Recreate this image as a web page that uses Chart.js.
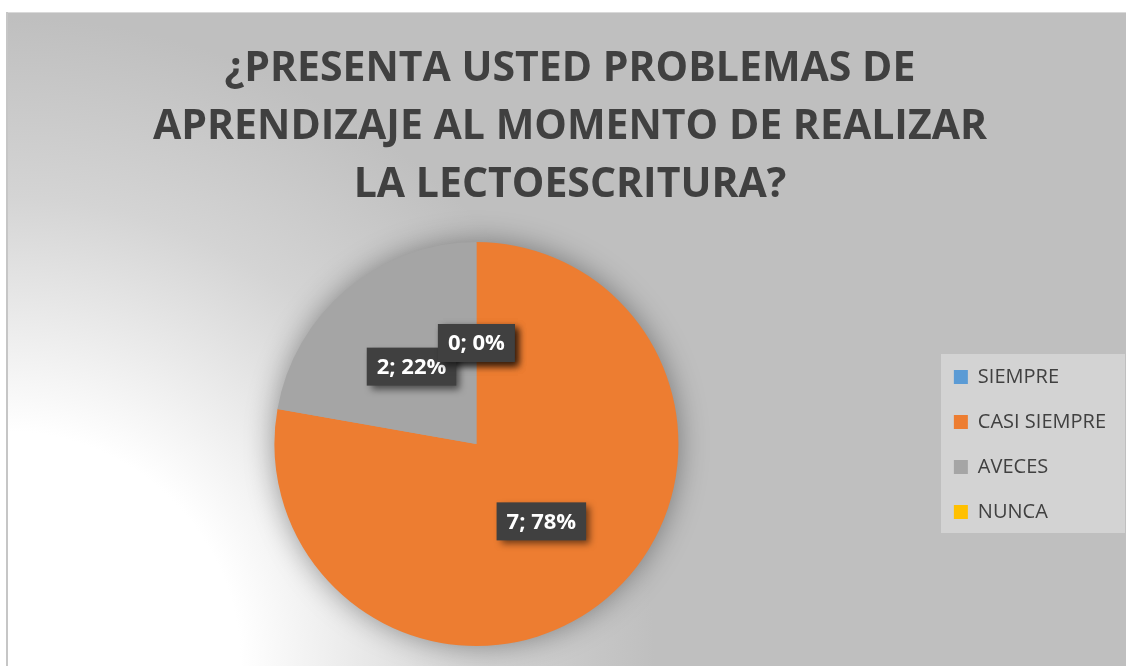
<!DOCTYPE html>
<html>
<head>
<meta charset="utf-8">
<script src="https://cdn.jsdelivr.net/npm/chart.js@4.4.1/dist/chart.umd.min.js"></script>
<style>
  html, body { margin: 0; padding: 0; background: #fff; }
  #wrap { width: 1126px; height: 666px; position: relative; }
</style>
</head>
<body>
<div id="wrap"><canvas id="myChart"></canvas></div>
<script>
const titleLines = ["¿PRESENTA USTED PROBLEMAS DE", "APRENDIZAJE AL MOMENTO DE REALIZAR", "LA LECTOESCRITURA?"];
const categories = ["SIEMPRE", "CASI SIEMPRE", "AVECES", "NUNCA"];
const counts = [0, 7, 2, 0];
const sliceColors = ["#5B9BD5", "#ED7D31", "#A5A5A5", "#FFC000"];

const textGray = "#404040";

// chart background (radial fill, white at bottom-left) + legend panel
const backdrop = {
  id: "backdrop",
  beforeDraw: (chart) => {
    const { ctx, width, height } = chart;
    ctx.save();
    ctx.fillStyle = "#ffffff";
    ctx.fillRect(0, 0, width, height);
    const g = ctx.createRadialGradient(6, height, 0, 6, height, 690);
    g.addColorStop(0, "#ffffff");
    g.addColorStop(0.34, "#ffffff");
    g.addColorStop(0.68, "#d4d4d4");
    g.addColorStop(0.94, "#bfbfbf");
    g.addColorStop(1, "#bfbfbf");
    ctx.fillStyle = g;
    ctx.fillRect(6, 12, width - 6, height - 12);
    ctx.strokeStyle = "#d9d9d9";
    ctx.lineWidth = 1;
    ctx.beginPath();
    ctx.moveTo(6, 12.5);
    ctx.lineTo(width, 12.5);
    ctx.stroke();
    ctx.strokeStyle = "#c6c6c6";
    ctx.lineWidth = 2;
    ctx.beginPath();
    ctx.moveTo(7, height);
    ctx.lineTo(7, 12);
    ctx.stroke();

    const boxes = chart.legend && chart.legend.legendHitBoxes;
    if (boxes && boxes.length) {
      const first = boxes[0];
      const last = boxes[boxes.length - 1];
      const top = first.top + first.height / 2 - 23;
      const bottom = last.top + last.height / 2 + 21;
      ctx.fillStyle = "#d3d3d3";
      ctx.fillRect(941, top, width - 1 - 941, bottom - top);
    }
    ctx.restore();
  },
};

// soft shadow behind the pie
const pieShadow = {
  id: "pieShadow",
  beforeDatasetsDraw: (chart) => {
    const arc = chart.getDatasetMeta(0).data[0];
    if (!arc) return;
    const { x, y, outerRadius } = arc.getProps(["x", "y", "outerRadius"], true);
    const { ctx } = chart;
    ctx.save();
    ctx.shadowColor = "rgba(0,0,0,0.4)";
    ctx.shadowBlur = 30;
    ctx.fillStyle = "#a5a5a5";
    ctx.beginPath();
    ctx.arc(x, y, outerRadius - 1, 0, Math.PI * 2);
    ctx.fill();
    ctx.restore();
  },
};

// "value; percent" labels in dark boxes with drop shadow
const sliceLabels = {
  id: "sliceLabels",
  afterDatasetsDraw: (chart) => {
    const { ctx } = chart;
    const meta = chart.getDatasetMeta(0);
    const values = chart.data.datasets[0].data;
    const total = values.reduce((a, b) => a + b, 0);
    ctx.save();
    ctx.font = "bold 22px 'Open Sans'";
    ctx.textAlign = "center";
    ctx.textBaseline = "middle";
    meta.data.forEach((arc, i) => {
      const { x, y, startAngle, endAngle, outerRadius } = arc.getProps(["x", "y", "startAngle", "endAngle", "outerRadius"], true);
      const mid = (startAngle + endAngle) / 2;
      const lx = x + Math.cos(mid) * outerRadius * 0.5;
      const ly = y + Math.sin(mid) * outerRadius * 0.5;
      const text = values[i] + "; " + Math.round((values[i] / total) * 100) + "%";
      const w = ctx.measureText(text).width + 20;
      const h = 38;
      ctx.save();
      ctx.shadowColor = "rgba(0,0,0,0.55)";
      ctx.shadowBlur = 7;
      ctx.shadowOffsetX = 4;
      ctx.shadowOffsetY = 4;
      ctx.fillStyle = "#404040";
      ctx.fillRect(lx - w / 2, ly - h / 2, w, h);
      ctx.restore();
      ctx.fillStyle = "#ffffff";
      ctx.fillText(text, lx, ly + 1);
    });
    ctx.restore();
  },
};

const ctx = document.getElementById("myChart").getContext("2d");

const myChart = new Chart(ctx, {
  type: "pie",
  data: {
    labels: categories,
    datasets: [
      {
        data: counts,
        backgroundColor: sliceColors,
        borderWidth: 0,
      },
    ],
  },
  options: {
    responsive: true,
    maintainAspectRatio: false,
    animation: false,
    layout: {
      padding: { left: 24, right: 10, top: 0, bottom: 20 },
    },
    plugins: {
      title: {
        display: true,
        text: titleLines,
        color: textGray,
        font: { family: "'Open Sans'", size: 41, weight: "bold", lineHeight: "58px" },
        padding: { top: 40, bottom: 28 },
      },
      legend: {
        position: "right",
        align: "start",
        title: {
          display: true,
          text: " ",
          font: { size: 10, lineHeight: 1 },
          padding: { top: 0, bottom: 332 },
        },
        labels: {
          color: textGray,
          font: { family: "'Open Sans'", size: 20 },
          boxWidth: 14,
          boxHeight: 14,
          padding: 25,
        },
      },
      tooltip: { enabled: false },
    },
  },
  plugins: [backdrop, pieShadow, sliceLabels],
});
</script>
</body>
</html>
